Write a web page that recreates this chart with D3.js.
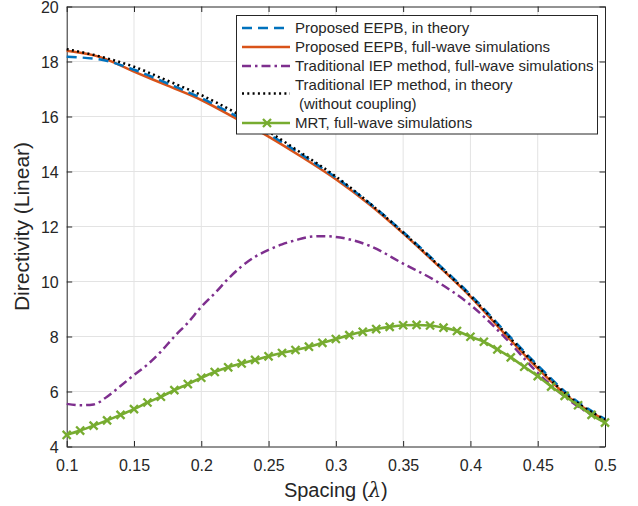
<!DOCTYPE html>
<html>
<head>
<meta charset="utf-8">
<script src="https://cdn.jsdelivr.net/npm/d3@7"></script>
<style>
  html, body { margin: 0; padding: 0; background: #fff; }
  svg { display: block; font-family: "Liberation Sans", Arial, Helvetica, sans-serif; }
</style>
</head>
<body>
<svg id="chart" width="638" height="506"></svg>
<script>
// Element spacing (in wavelengths) used by the theory / full-wave curves
const spacingCoarse = [0.1, 0.125, 0.15, 0.175, 0.2, 0.225, 0.25, 0.275, 0.3, 0.325,
                       0.35, 0.375, 0.4, 0.425, 0.45, 0.475, 0.5];

// Proposed EEPB, in theory
const eepbTheory = [18.17, 18.07, 17.7, 17.2, 16.67, 16.04, 15.36, 14.6, 13.78, 12.85,
                    11.8, 10.68, 9.52, 8.22, 6.95, 5.8, 5.0];

// Proposed EEPB, full-wave simulations
const eepbFullWave = [18.39, 18.16, 17.63, 17.12, 16.6, 15.95, 15.27, 14.52, 13.72, 12.8,
                      11.75, 10.62, 9.45, 8.12, 6.84, 5.72, 4.96];

// Traditional IEP method, in theory (without coupling)
const iepTheory = [18.45, 18.18, 17.81, 17.3, 16.78, 16.15, 15.45, 14.65, 13.82, 12.85,
                   11.78, 10.65, 9.48, 8.18, 6.9, 5.75, 4.98];

// Traditional IEP method, full-wave simulations
const iepSpacing = [0.1, 0.11, 0.12, 0.13, 0.14, 0.15, 0.16, 0.17, 0.18, 0.19, 0.2, 0.21,
                    0.22, 0.23, 0.24, 0.25, 0.26, 0.27, 0.28, 0.29, 0.3, 0.325, 0.35,
                    0.375, 0.4, 0.425, 0.45, 0.475, 0.5];
const iepFullWave = [5.55, 5.5, 5.53, 5.81, 6.2, 6.6, 6.98, 7.45, 8.0, 8.5, 9.08, 9.57,
                     10.1, 10.55, 10.9, 11.15, 11.35, 11.5, 11.62, 11.65, 11.62, 11.3, 10.65,
                     10.0, 9.15, 8.0, 6.68, 5.63, 4.88];

// MRT, full-wave simulations (one sample every 0.01 wavelength)
const mrtSpacing = [0.1, 0.11, 0.12, 0.13, 0.14, 0.15, 0.16, 0.17, 0.18, 0.19, 0.2,
                    0.21, 0.22, 0.23, 0.24, 0.25, 0.26, 0.27, 0.28, 0.29, 0.3,
                    0.31, 0.32, 0.33, 0.34, 0.35, 0.36, 0.37, 0.38, 0.39, 0.4,
                    0.41, 0.42, 0.43, 0.44, 0.45, 0.46, 0.47, 0.48, 0.49, 0.5];
const mrtFullWave = [4.42, 4.58, 4.76, 4.95, 5.15, 5.36, 5.6, 5.81, 6.05, 6.27, 6.5,
                     6.71, 6.88, 7.02, 7.15, 7.28, 7.4, 7.51, 7.63, 7.77, 7.91,
                     8.05, 8.17, 8.27, 8.35, 8.41, 8.42, 8.4, 8.32, 8.2, 7.99,
                     7.81, 7.53, 7.24, 6.9, 6.56, 6.18, 5.84, 5.5, 5.15, 4.87];

const xTickValues = [0.1, 0.15, 0.2, 0.25, 0.3, 0.35, 0.4, 0.45, 0.5];
const xTickLabels = ["0.1", "0.15", "0.2", "0.25", "0.3", "0.35", "0.4", "0.45", "0.5"];
const yTickValues = [4, 6, 8, 10, 12, 14, 16, 18, 20];
const yTickLabels = ["4", "6", "8", "10", "12", "14", "16", "18", "20"];

const legendLabels = [
  "Proposed EEPB, in theory",
  "Proposed EEPB, full-wave simulations",
  "Traditional IEP method, full-wave simulations",
  "Traditional IEP method, in theory",
  "MRT, full-wave simulations"
];

// ---- layout ----
const svg = d3.select("#chart");
const plot = { left: 66.7, right: 605, top: 6.5, bottom: 446.5 };
const axisColor = "#262626";

const x = d3.scaleLinear().domain([0.1, 0.5]).range([plot.left, plot.right]);
const y = d3.scaleLinear().domain([4, 20]).range([plot.bottom, plot.top]);

// grid
const grid = svg.append("g").attr("stroke", "#e3e3e3").attr("stroke-width", 1);
grid.selectAll("line.gx").data(xTickValues.slice(1, -1)).join("line")
  .attr("x1", d => x(d)).attr("x2", d => x(d))
  .attr("y1", plot.top).attr("y2", plot.bottom);
grid.selectAll("line.gy").data(yTickValues.slice(1, -1)).join("line")
  .attr("x1", plot.left).attr("x2", plot.right)
  .attr("y1", d => y(d)).attr("y2", d => y(d));

// axes (ticks point inward, box on all four sides)
function styleAxis(g) {
  g.selectAll("path.domain").attr("stroke", axisColor).attr("stroke-width", 1);
  g.selectAll(".tick line").attr("stroke", axisColor).attr("stroke-width", 1);
  g.selectAll(".tick text").attr("fill", axisColor).attr("font-size", 16)
    .attr("font-family", "Liberation Sans, Arial, sans-serif");
}
const tickLen = 5.5;
svg.append("g").attr("transform", `translate(0,${plot.bottom})`)
  .call(d3.axisBottom(x).tickValues(xTickValues).tickSizeInner(-tickLen).tickSizeOuter(0)
    .tickPadding(13).tickFormat((d, i) => xTickLabels[i]))
  .call(styleAxis);
svg.append("g").attr("transform", `translate(0,${plot.top})`)
  .call(d3.axisTop(x).tickValues(xTickValues).tickSizeInner(-tickLen).tickSizeOuter(0).tickFormat(""))
  .call(styleAxis);
const yAxisG = svg.append("g").attr("transform", `translate(${plot.left},0)`)
  .call(d3.axisLeft(y).tickValues(yTickValues).tickSizeInner(-tickLen).tickSizeOuter(0)
    .tickPadding(8).tickFormat((d, i) => yTickLabels[i]))
  .call(styleAxis);
// keep the top label inside the canvas
yAxisG.selectAll(".tick text").attr("dy", "0.4em");
svg.append("g").attr("transform", `translate(${plot.right},0)`)
  .call(d3.axisRight(y).tickValues(yTickValues).tickSizeInner(-tickLen).tickSizeOuter(0).tickFormat(""))
  .call(styleAxis);

// axis titles
const xTitle = svg.append("text")
  .attr("x", (plot.left + plot.right) / 2).attr("y", 497)
  .attr("text-anchor", "middle").attr("font-size", 20).attr("fill", axisColor);
xTitle.append("tspan").text("Spacing (");
xTitle.append("tspan").attr("font-style", "italic").attr("font-family", "DejaVu Serif, serif").text("λ");
xTitle.append("tspan").text(")");

svg.append("text")
  .attr("transform", `translate(29,${(plot.top + plot.bottom) / 2}) rotate(-90)`)
  .attr("text-anchor", "middle").attr("font-size", 21).attr("fill", axisColor)
  .text("Directivity (Linear)");

// ---- series ----
const styles = {
  eepbTheory:   { color: "#0072BD", width: 2.5, dash: "10,6" },
  eepbFullWave: { color: "#D95319", width: 2.5, dash: null },
  iepFullWave:  { color: "#7E2F8E", width: 2.5, dash: "9,4,2.5,4" },
  iepTheory:    { color: "#000000", width: 2.5, dash: "2,3.3" },
  mrtFullWave:  { color: "#77AC30", width: 2.6, dash: null, marker: true }
};

const series = [
  { xs: iepSpacing, ys: iepFullWave, st: styles.iepFullWave },
  { xs: spacingCoarse, ys: eepbFullWave, st: styles.eepbFullWave },
  { xs: spacingCoarse, ys: eepbTheory, st: styles.eepbTheory },
  { xs: spacingCoarse, ys: iepTheory, st: styles.iepTheory },
  { xs: mrtSpacing, ys: mrtFullWave, st: styles.mrtFullWave }
];

const line = d3.line().x(d => x(d[0])).y(d => y(d[1])).curve(d3.curveMonotoneX);
const marker = d3.symbol().type(d3.symbolX).size(44);
const plotG = svg.append("g");

series.forEach(s => {
  const pts = s.xs.map((v, i) => [v, s.ys[i]]);
  plotG.append("path").datum(pts)
    .attr("d", line).attr("fill", "none")
    .attr("stroke", s.st.color).attr("stroke-width", s.st.width)
    .attr("stroke-dasharray", s.st.dash)
    .attr("stroke-linejoin", "round");
  if (s.st.marker) {
    plotG.selectAll(null).data(pts).join("path")
      .attr("transform", d => `translate(${x(d[0])},${y(d[1])})`)
      .attr("d", marker)
      .attr("fill", "none").attr("stroke", s.st.color).attr("stroke-width", 2.3);
  }
});

// ---- legend ----
const leg = svg.append("g");
leg.append("rect").attr("x", 236.5).attr("y", 15.5).attr("width", 361).attr("height", 118.5)
  .attr("fill", "#fff").attr("stroke", axisColor).attr("stroke-width", 1);

const legendEntries = [
  { st: styles.eepbTheory, lineY: 28, textY: 28 },
  { st: styles.eepbFullWave, lineY: 47, textY: 47 },
  { st: styles.iepFullWave, lineY: 66, textY: 66 },
  { st: styles.iepTheory, lineY: 93.5, textY: 85 },
  { st: styles.mrtFullWave, lineY: 123, textY: 123 }
];
legendEntries.forEach((e, i) => {
  leg.append("line").attr("x1", 242).attr("x2", 290)
    .attr("y1", e.lineY).attr("y2", e.lineY)
    .attr("stroke", e.st.color).attr("stroke-width", e.st.width)
    .attr("stroke-dasharray", e.st.dash);
  if (e.st.marker) {
    leg.append("path").attr("transform", `translate(267,${e.lineY})`)
      .attr("d", marker)
      .attr("fill", "none").attr("stroke", e.st.color).attr("stroke-width", 2.3);
  }
  leg.append("text").attr("x", 295).attr("y", e.textY).attr("dy", "0.35em")
    .attr("font-size", 15).attr("fill", axisColor).text(legendLabels[i]);
});
leg.append("text").attr("x", 299).attr("y", 104).attr("dy", "0.35em")
  .attr("font-size", 15).attr("fill", axisColor).text("(without coupling)");
</script>
</body>
</html>
